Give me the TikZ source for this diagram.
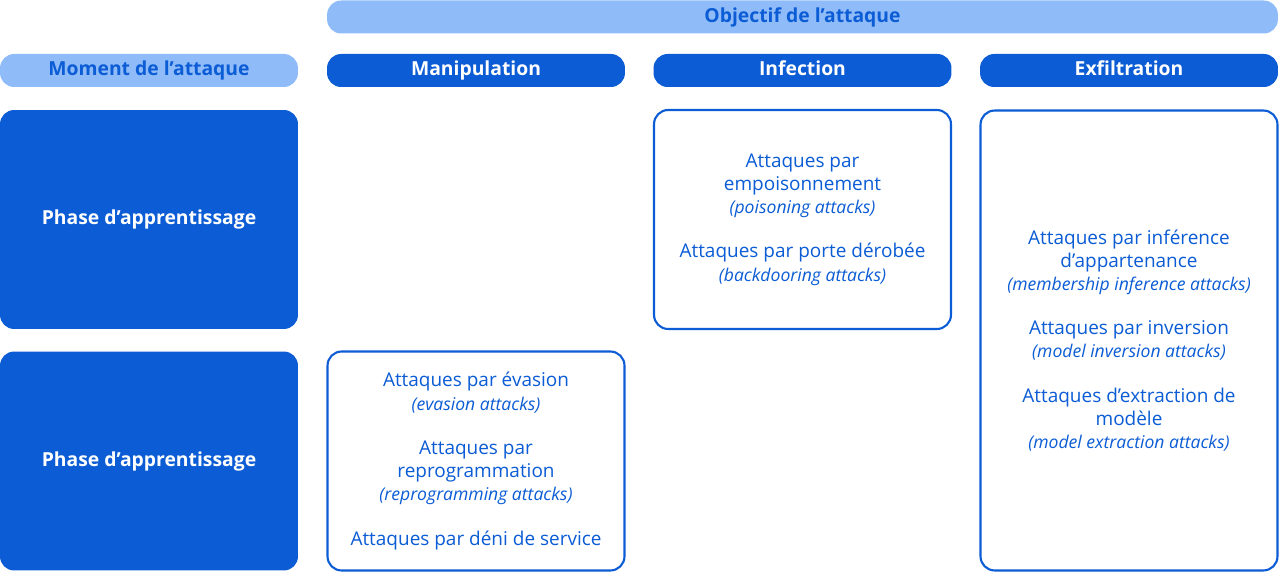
\documentclass[tikz,border=0pt]{standalone}
\usepackage{fontspec}
\setmainfont{Open Sans}
\usepackage{tikz}
\usetikzlibrary{positioning}
\definecolor{clair}{HTML}{8FBCF9}
\definecolor{fonce}{HTML}{0B5CD5}
\tikzset{
  pill/.style={rounded corners=8pt, minimum width=5.96cm, minimum height=0.66cm, inner sep=0pt, text height=1.6ex, text depth=0.45ex, font=\bfseries\fontsize{11}{13}\selectfont},
  clairpill/.style={pill, fill=clair, text=fonce},
  foncepill/.style={pill, fill=fonce, text=white},
  phase/.style={rounded corners=8pt, fill=fonce, text=white, minimum width=5.96cm, minimum height=4.38cm, inner sep=0pt, font=\bfseries\fontsize{11}{13}\selectfont},
  cellule/.style={rounded corners=8pt, draw=fonce, line width=1.2pt, fill=white, text=fonce, inner sep=0pt, align=center, font=\fontsize{10.8}{13.2}\selectfont},
}
\newcommand{\en}[1]{{\itshape\fontsize{10}{13.2}\selectfont #1}}
\begin{document}
\begin{tikzpicture}[x=0.02cm, y=-0.02cm]
\useasboundingbox (0,0) rectangle (1280,573);

\node[clairpill, minimum width=19.02cm] (objectif) at (802.5,17) {Objectif de l’attaque};
\node[clairpill] (moment) at (149,70.5) {Moment de l’attaque};
\node[foncepill] (manip) at (476,70.5) {Manipulation};
\node[foncepill] (infec) at (802.5,70.5) {Infection};
\node[foncepill] (exfil) at (1129,70.5) {Exfiltration};

\node[phase] (phase1) at (149,219.5) {Phase d’apprentissage};
\node[phase] (phase2) at (149,461) {Phase d’apprentissage};

% cellules
\node[cellule, minimum width=5.94cm, minimum height=4.38cm] (celinfec) at (802.5,219.5) {%
  Attaques par\\empoisonnement\\\en{(poisoning attacks)}\\[12pt]
  Attaques par porte dérobée\\\en{(backdooring attacks)}};
\node[cellule, minimum width=5.94cm, minimum height=4.38cm] (celmanip) at (476,461) {%
  Attaques par évasion\\\en{(evasion attacks)}\\[12pt]
  Attaques par\\reprogrammation\\\en{(reprogramming attacks)}\\[12pt]
  Attaques par déni de service};
\node[cellule, minimum width=5.94cm, minimum height=9.2cm] (celexfil) at (1129,340.5) {%
  Attaques par inférence\\d’appartenance\\\en{(membership inference attacks)}\\[12pt]
  Attaques par inversion\\\en{(model inversion attacks)}\\[12pt]
  Attaques d’extraction de\\modèle\\\en{(model extraction attacks)}};
\end{tikzpicture}
\end{document}
